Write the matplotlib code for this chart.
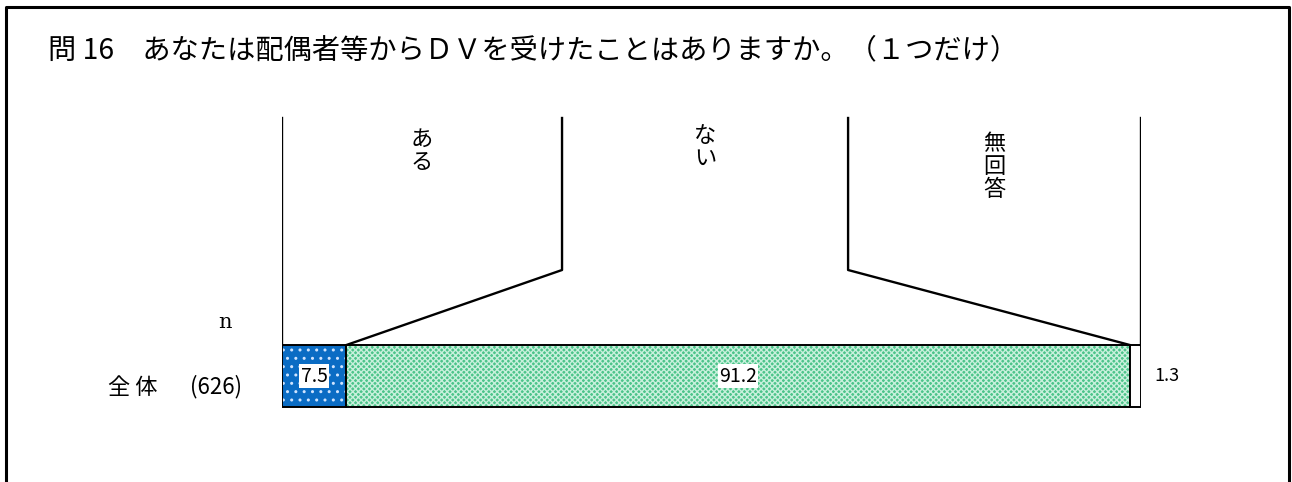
import matplotlib.pyplot as plt

plt.rcParams['font.family'] = ['Noto Sans CJK JP', 'DejaVu Sans']
plt.rcParams['hatch.linewidth'] = 1.0

# data
categories = ["ある", "ない", "無回答"]
values = [7.5, 91.2, 1.3]
row_label = "全 体"
row_n = 626
title = "問 16　あなたは配偶者等からＤＶを受けたことはありますか。（１つだけ）"

colors = ["#0a6cc4", "#4cc48a", "#ffffff"]
hatches = ["..", "xxxxxx", None]
hatch_colors = ["#cfe4ff", "#c8f0dc", None]

W, H = 1292, 482
fig = plt.figure(figsize=(W / 100, H / 100), dpi=100)

# outer frame (open at the bottom)
fr = fig.add_axes([0, 0, 1, 1])
fr.set_xlim(0, W)
fr.set_ylim(H, 0)
fr.axis("off")
fr.plot([6, 6, 1289, 1289], [H, 7, 7, H], color="black", lw=2.2)
fr.text(48, 50, title, fontsize=20.3, va="center", ha="left")
fr.text(225, 322, "n", fontsize=15, va="center", ha="center", family="DejaVu Serif")
fr.text(108, 387, row_label, fontsize=16, va="center", ha="left")
fr.text(190, 387, f"({row_n})", fontsize=16, va="center", ha="left")

# bar axes: x in percent, y in pixels
x0, x1 = 282, 1141
ax = fig.add_axes([x0 / W, 0, (x1 - x0) / W, 1])
ax.set_xlim(0, 100)
ax.set_ylim(H, 0)
ax.axis("off")

bar_y, bar_h = 376, 62
left = 0
starts = []
for v, c, h, hc in zip(values, colors, hatches, hatch_colors):
    starts.append(left)
    ax.barh(bar_y, v, left=left, height=bar_h, color=c, hatch=h,
            edgecolor=hc if hc else c, lw=0)
    ax.barh(bar_y, v, left=left, height=bar_h, fill=False,
            edgecolor="black", lw=1.4)
    left += v
ends = [s + v for s, v in zip(starts, values)]

# value labels
for i, (s, v) in enumerate(zip(starts, values)):
    if v < 3:
        ax.text(ends[i] + 1.6, bar_y, f"{v:.1f}", fontsize=13, va="center", ha="left")
    else:
        ax.text(s + v / 2, bar_y, f"{v:.1f}", fontsize=14, va="center", ha="center",
                bbox=dict(facecolor="white", edgecolor="none", pad=1.0))

# leader boxes above the bar
top, knee = 118, 270
box_edges = [0, 32.6, 65.9, 100]
bar_top = bar_y - bar_h / 2
ax.plot([box_edges[0]] * 2, [top, bar_top], color="black", lw=1.7)
ax.plot([box_edges[3]] * 2, [top, bar_top], color="black", lw=1.7)
ax.plot([box_edges[1], box_edges[1], ends[0]], [top, knee, bar_top], color="black", lw=1.7)
ax.plot([box_edges[2], box_edges[2], ends[1]], [top, knee, bar_top], color="black", lw=1.7)

label_x = [(box_edges[i] + box_edges[i + 1]) / 2 for i in range(3)]
label_top = [128, 124, 132]
for lx, ly, cat in zip(label_x, label_top, categories):
    ax.text(lx, ly, "\n".join(cat), fontsize=16, va="top", ha="center", linespacing=1.0)

fig.savefig("out.png", dpi=100)
